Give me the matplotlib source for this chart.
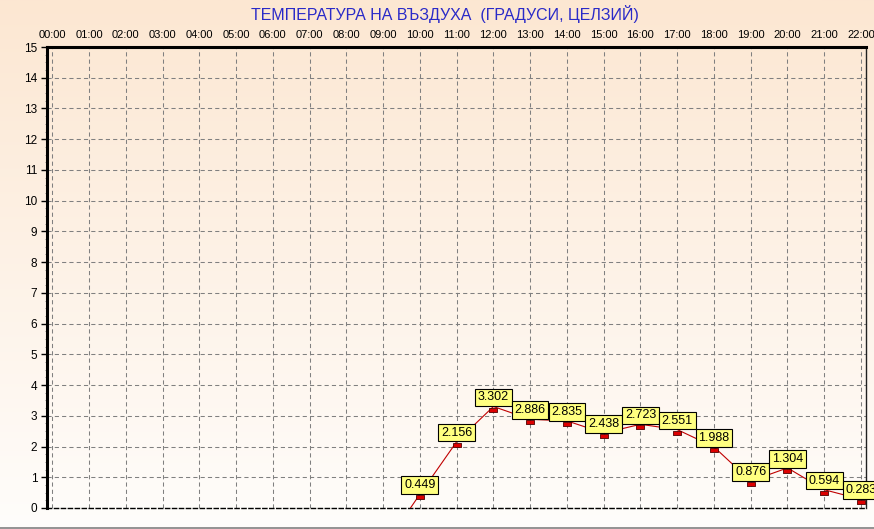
import numpy as np
import matplotlib
matplotlib.use("Agg")
import matplotlib.pyplot as plt
from matplotlib.colors import LinearSegmentedColormap
from matplotlib.ticker import MultipleLocator

plt.rcParams['font.family'] = ['Liberation Sans', 'DejaVu Sans']

title = "ТЕМПЕРАТУРА НА ВЪЗДУХА  (ГРАДУСИ, ЦЕЛЗИЙ)"
tick_labels = ["%02d:00" % h for h in range(23)]
hours = [9, 10, 11, 12, 13, 14, 15, 16, 17, 18, 19, 20, 21, 22]
temps = [-1.3, 0.449, 2.156, 3.302, 2.886, 2.835, 2.438, 2.723, 2.551, 1.988, 0.876, 1.304, 0.594, 0.283]
yticks = list(range(0, 16))

W, H = 874, 529
fig = plt.figure(figsize=(W / 100, H / 100), dpi=100)

# background gradient
bg = fig.add_axes([0, 0, 1, 1], zorder=-10)
cmap = LinearSegmentedColormap.from_list("bg", ["#fce7d2", "#fffdfb"])
grad = np.linspace(0, 1, 256).reshape(-1, 1)
bg.imshow(grad, aspect="auto", cmap=cmap, extent=[0, 1, 0, 1], origin="upper")
bg.set_xlim(0, 1); bg.set_ylim(0, 1)
bg.axis("off")
bg.axhline(1 - 527.5 / H, color="#808080", lw=1.2)

left, right, top, bottom = 47, 866, 47, 508
ax = fig.add_axes([left / W, 1 - bottom / H, (right - left) / W, (bottom - top) / H])
ax.patch.set_alpha(0)

x0px, dxpx = 52.3, 36.76
ax.set_xlim((left - x0px) / dxpx, (right - x0px) / dxpx)
ax.set_ylim(0, 15)

ax.xaxis.tick_top()
ax.set_xticks(range(23))
ax.set_xticklabels(tick_labels, fontsize=8)
ax.tick_params(axis='x', length=0, pad=5)
ax.set_yticks(yticks)
ax.set_yticklabels([str(v) for v in yticks], fontsize=8.5)
ax.tick_params(axis='y', length=4, width=1, pad=3, direction='out')
ax.yaxis.set_minor_locator(MultipleLocator(0.25))
ax.tick_params(axis='y', which='minor', length=1.5, width=0.6, color='#808080', direction='out')

ax.grid(True, color="#808080", linestyle=(0, (4, 3)), linewidth=0.75)

for s in ['left', 'top']:
    ax.spines[s].set_linewidth(2.2)
    ax.spines[s].set_color('black')
ax.spines['right'].set_linewidth(1)
ax.spines['right'].set_color('#202020')
ax.spines['bottom'].set_linewidth(1)
ax.spines['bottom'].set_color('black')
ax.spines['bottom'].set_linestyle((0, (3, 2)))

ax.plot(hours, temps, color="#c00000", lw=0.8, zorder=3)
marker = [(-1, -0.5), (1, -0.5), (1, 0.5), (-1, 0.5), (-1, -0.5)]
ax.plot(hours, [t - 0.1 for t in temps], linestyle='none', marker=marker, markersize=6.2,
        markerfacecolor="#dd0000", markeredgecolor="#500000", markeredgewidth=0.6, zorder=4)

for h, t in zip(hours, temps):
    if t < 0:
        continue
    ax.annotate("%.3f" % t, (h, t), xytext=(0, 2.2), textcoords='offset points',
                ha='center', va='bottom', fontsize=9, zorder=5, annotation_clip=False,
                bbox=dict(boxstyle='square,pad=0.22', facecolor='#ffff80', edgecolor='black', lw=0.8))

fig.text(445 / W, 1 - 14 / H, title, ha='center', va='center', fontsize=11.5, color='#2a2ac8')

fig.savefig("out.png", dpi=100)
